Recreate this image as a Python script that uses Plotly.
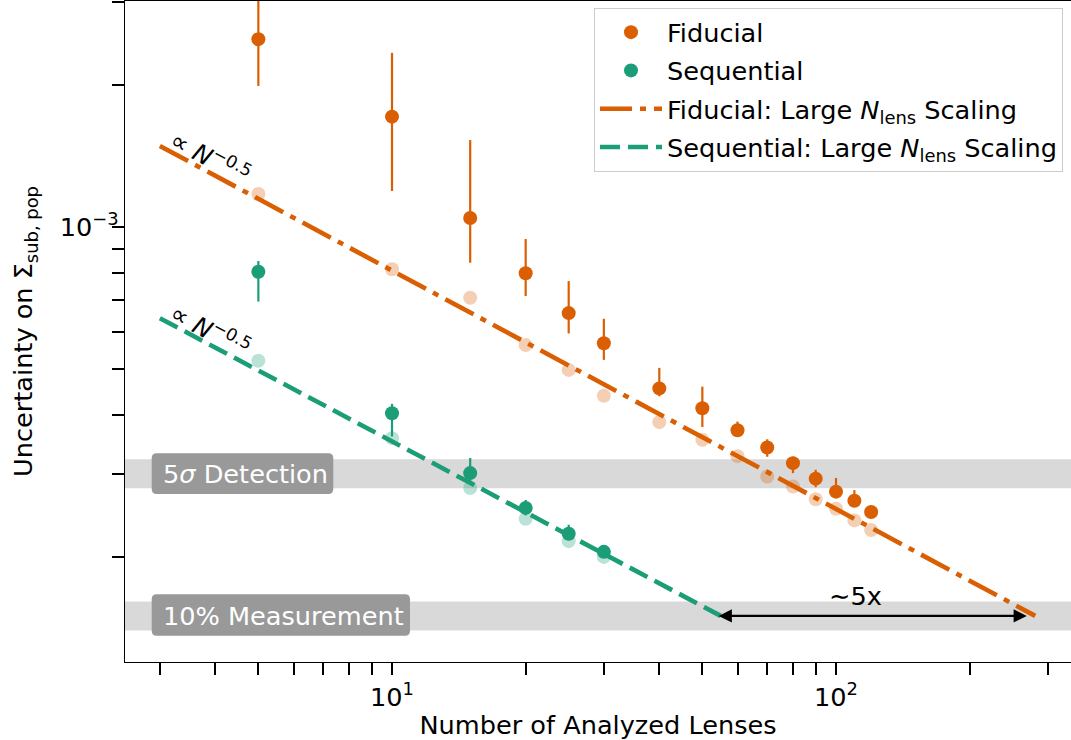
import numpy as np
import plotly.graph_objects as go

# ---------------- data ----------------
N_fid = [5, 10, 15, 20, 25, 30, 40, 50, 60, 70, 80, 90, 100, 110, 120]
fid_val = [2.50e-3, 1.713e-3, 1.045e-3, 7.98e-4, 6.57e-4, 5.67e-4, 4.55e-4,
           4.13e-4, 3.71e-4, 3.41e-4, 3.16e-4, 2.93e-4, 2.75e-4, 2.63e-4, 2.49e-4]
fid_hi = [3.3e-3, 2.339e-3, 1.528e-3, 9.43e-4, 7.68e-4, 6.39e-4, 5.03e-4,
          4.59e-4, 3.87e-4, 3.55e-4, 3.26e-4, 3.06e-4, 2.94e-4, 2.77e-4, 2.56e-4]
fid_lo = [1.99e-3, 1.192e-3, 8.40e-4, 7.14e-4, 5.95e-4, 5.23e-4, 4.38e-4,
          3.77e-4, 3.61e-4, 3.26e-4, 3.01e-4, 2.81e-4, 2.68e-4, 2.58e-4, 2.43e-4]
fid_expected = [1.175e-3, 8.14e-4, 7.08e-4, 5.62e-4, 4.98e-4, 4.39e-4, 3.86e-4,
                3.54e-4, 3.27e-4, 2.96e-4, 2.82e-4, 2.65e-4, 2.53e-4, 2.39e-4, 2.28e-4]

N_seq = [5, 10, 15, 20, 25, 30]
seq_val = [8.04e-4, 4.03e-4, 3.01e-4, 2.54e-4, 2.24e-4, 2.05e-4]
seq_hi = [8.47e-4, 4.22e-4, 3.24e-4, 2.64e-4, 2.34e-4, 2.10e-4]
seq_lo = [6.95e-4, 3.60e-4, 2.88e-4, 2.45e-4, 2.17e-4, 2.00e-4]
seq_expected = [5.21e-4, 3.57e-4, 2.80e-4, 2.41e-4, 2.16e-4, 2.00e-4]

# large-N scaling lines (end points)
fid_line_N = [3, 281]
fid_line_val = [1.485e-3, 1.5e-4]
seq_line_N = [3, 55]
seq_line_val = [6.41e-4, 1.5e-4]

# threshold levels
detection_level = 3.0e-4
measurement_level = 1.5e-4

# arrow between the two scaling lines at the measurement level
arrow_N = [54, 269]
arrow_text = "∼5x"
arrow_text_pos = (110.5, 1.65e-4)

x_ticks = [10, 100]
x_ticklabels = ["10<sup>1</sup>", "10<sup>2</sup>"]
x_minor = [3, 4, 5, 6, 7, 8, 9, 20, 30, 40, 50, 60, 70, 80, 90, 200, 300]
y_ticks = [1e-3]
y_ticklabels = ["10<sup>−3</sup>"]
y_minor = [3e-3, 2e-3, 9e-4, 8e-4, 7e-4, 6e-4, 5e-4, 4e-4, 3e-4, 2e-4]

# ---------------- style ----------------
ORANGE = "#d95f02"
GREEN = "#1b9e77"
FONT = "DejaVu Sans"
FS = 25.6

W, H = 1071, 740
L, R, T, B = 125, 0, 1, 78
PW, PH = W - L - R, H - T - B


def px2paper(x, y):
    return (x - L) / PW, (H - B - y) / PH


def rounded_box(x0, y0, x1, y1, r=5):
    # pixel bbox -> rounded rect path in paper coords
    rx = r / PW
    ry = r / PH
    a0, b1 = px2paper(x0, y0)  # top-left
    a1, b0 = px2paper(x1, y1)  # bottom-right
    return (f"M{a0+rx},{b1} L{a1-rx},{b1} Q{a1},{b1} {a1},{b1-ry} "
            f"L{a1},{b0+ry} Q{a1},{b0} {a1-rx},{b0} L{a0+rx},{b0} "
            f"Q{a0},{b0} {a0},{b0+ry} L{a0},{b1-ry} Q{a0},{b1} {a0+rx},{b1} Z")


fig = go.Figure()

# faded "expected" points
fig.add_trace(go.Scatter(x=N_fid, y=fid_expected, mode="markers",
                         marker=dict(color=ORANGE, size=14, opacity=0.3),
                         showlegend=False, hoverinfo="skip"))
fig.add_trace(go.Scatter(x=N_seq, y=seq_expected, mode="markers",
                         marker=dict(color=GREEN, size=14, opacity=0.3),
                         showlegend=False, hoverinfo="skip"))

# scaling lines
fig.add_trace(go.Scatter(x=fid_line_N, y=fid_line_val, mode="lines",
                         line=dict(color=ORANGE, width=4.6, dash="32px,8px,6px,8px"),
                         name="Fiducial: Large <i>N</i><sub>lens</sub> Scaling",
                         legendrank=3, legendgroup="c"))
fig.add_trace(go.Scatter(x=seq_line_N, y=seq_line_val, mode="lines",
                         line=dict(color=GREEN, width=4.6, dash="20px,8px"),
                         name="Sequential: Large <i>N</i><sub>lens</sub> Scaling",
                         legendrank=4, legendgroup="d"))

# measured points with error bars
fig.add_trace(go.Scatter(
    x=N_fid, y=fid_val, mode="markers", name="Fiducial", legendrank=1,
    legendgroup="a",
    marker=dict(color=ORANGE, size=14),
    error_y=dict(type="data", symmetric=False,
                 array=[h - v for h, v in zip(fid_hi, fid_val)],
                 arrayminus=[v - l for l, v in zip(fid_lo, fid_val)],
                 color=ORANGE, thickness=2.2, width=0)))
fig.add_trace(go.Scatter(
    x=N_seq, y=seq_val, mode="markers", name="Sequential", legendrank=2,
    legendgroup="b",
    marker=dict(color=GREEN, size=14),
    error_y=dict(type="data", symmetric=False,
                 array=[h - v for h, v in zip(seq_hi, seq_val)],
                 arrayminus=[v - l for l, v in zip(seq_lo, seq_val)],
                 color=GREEN, thickness=2.2, width=0)))

shapes = []
for lvl in (detection_level, measurement_level):
    shapes.append(dict(type="line", xref="paper", yref="y", x0=0, x1=1,
                       y0=lvl, y1=lvl, line=dict(color="#d9d9d9", width=29),
                       layer="below"))

shapes.append(dict(type="path", xref="paper", yref="paper",
                   path=rounded_box(151.7, 453.3, 333.3, 494.0),
                   fillcolor="#999999", line=dict(width=0), layer="below"))
shapes.append(dict(type="path", xref="paper", yref="paper",
                   path=rounded_box(151.7, 594.3, 410.0, 635.7),
                   fillcolor="#999999", line=dict(width=0), layer="below"))

annotations = []
for txt, yc in (("5<i>σ</i> Detection", 474.0), ("10% Measurement", 615.5)):
    ax_, ay_ = px2paper(160.5, yc)
    annotations.append(dict(xref="paper", yref="paper", x=ax_, y=ay_,
                            xanchor="left", yanchor="middle", text=txt,
                            showarrow=False,
                            font=dict(family=FONT, size=FS, color="white")))

# arrow
annotations.append(dict(xref="x", yref="y", axref="x", ayref="y",
                        x=np.log10(arrow_N[1]), y=np.log10(measurement_level),
                        ax=np.log10(arrow_N[0]), ay=np.log10(measurement_level),
                        text="", showarrow=True, arrowside="end+start",
                        arrowhead=2, startarrowhead=2, arrowsize=1.2,
                        startarrowsize=1.2, arrowwidth=2.2, arrowcolor="black",
                        standoff=0, startstandoff=0))
annotations.append(dict(xref="x", yref="y",
                        x=np.log10(arrow_text_pos[0]),
                        y=np.log10(arrow_text_pos[1]),
                        text=arrow_text, showarrow=False, xanchor="center",
                        yanchor="middle",
                        font=dict(family=FONT, size=FS, color="black")))

# proportionality labels along the lines
for yv in (-2.8511, -3.2176):
    annotations.append(dict(xref="x", yref="y", x=0.592, y=yv,
                            text="∝ <i>N</i><sup>−0.5</sup>", showarrow=False,
                            textangle=28.4, xanchor="center", yanchor="middle",
                            font=dict(family=FONT, size=24.5, color="black")))

lx, ly = px2paper(1063, 8)
fig.update_layout(
    width=W, height=H,
    margin=dict(l=L, r=R, t=T, b=B, pad=0),
    paper_bgcolor="white", plot_bgcolor="white",
    font=dict(family=FONT, size=FS, color="black"),
    shapes=shapes, annotations=annotations,
    legend=dict(x=lx, y=ly, xanchor="right", yanchor="top",
                bgcolor="rgba(255,255,255,0.85)", bordercolor="#cccccc",
                borderwidth=1, font=dict(family=FONT, size=FS),
                itemwidth=62, traceorder="grouped", tracegroupgap=2),
    xaxis=dict(type="log", range=[0.3986, 2.5293], showgrid=False,
               zeroline=False, showline=True, linecolor="black", linewidth=1.3,
               mirror=True, ticks="outside", ticklen=12, tickwidth=1.6,
               tickcolor="black", tickvals=x_ticks, ticktext=x_ticklabels,
               minor=dict(tickvals=x_minor, ticks="outside", ticklen=12,
                          tickwidth=1.6, tickcolor="black", showgrid=False),
               title=dict(text="Number of Analyzed Lenses",
                          font=dict(family=FONT, size=FS), standoff=10)),
    yaxis=dict(type="log", range=[-3.9216, -2.5212], showgrid=False,
               zeroline=False, showline=True, linecolor="black", linewidth=1.3,
               mirror=False, ticks="outside", ticklen=12, tickwidth=1.6,
               tickcolor="black", tickvals=y_ticks, ticktext=y_ticklabels,
               ticklabelstandoff=-12,
               minor=dict(tickvals=y_minor, ticks="outside", ticklen=12,
                          tickwidth=1.6, tickcolor="black", showgrid=False),
               title=dict(text="Uncertainty on Σ<sub>sub, pop</sub>",
                          font=dict(family=FONT, size=FS), standoff=19)),
)

fig.write_html("out.html")
